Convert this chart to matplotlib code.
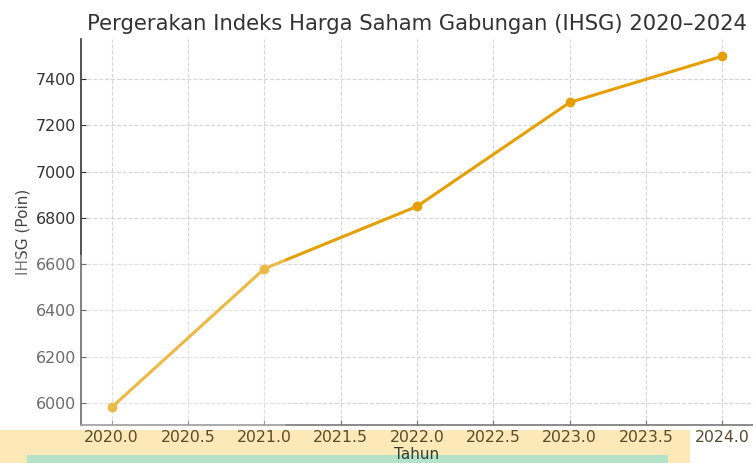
import matplotlib.pyplot as plt
from matplotlib.patches import Rectangle

# data
tahun = [2020, 2021, 2022, 2023, 2024]
ihsg = [5980, 6580, 6850, 7300, 7500]

W, H = 753, 463
fig = plt.figure(figsize=(W / 100, H / 100), dpi=100)
ax = fig.add_axes([81 / W, 1 - 425 / H, 1 - 81 / W, (425 - 38.6) / H])

ax.plot(tahun, ihsg, color='#E69F00', linewidth=2.2, marker='o', markersize=6)

ax.set_title('Pergerakan Indeks Harga Saham Gabungan (IHSG) 2020\u20132024',
             fontsize=15.2, color='#333333', pad=6)
ax.set_xlabel('Tahun', fontsize=11, color='#2f3f35', labelpad=1.5)
ax.set_ylabel('IHSG (Poin)', fontsize=11, color='#444444')

ax.grid(True, linestyle='--', color='#cccccc', linewidth=0.8, alpha=0.8)
ax.spines['top'].set_visible(False)
ax.spines['right'].set_visible(False)
ax.spines['left'].set_color('#333333')
ax.spines['bottom'].set_color('#777777')
ax.spines['left'].set_linewidth(1.2)
ax.spines['bottom'].set_linewidth(1.2)
ax.tick_params(axis='y', direction='in', labelsize=11.4, colors='#333333')
ax.tick_params(axis='x', direction='in', labelsize=11.3, colors='#777777', labelcolor='#5a4a2c')
ax.get_xticklabels()[-1].set_color('#666666')


def px_rect(x0, y0, x1, y1, **kw):
    # rectangle given in pixel coords (top-left origin)
    return Rectangle((x0 / W, 1 - y1 / H), (x1 - x0) / W, (y1 - y0) / H,
                     transform=fig.transFigure, **kw)


# highlight boxes behind the x axis labels
fig.add_artist(px_rect(0, 430, 690, 463, facecolor='#fde9b8', edgecolor='none', zorder=-2))
fig.add_artist(px_rect(27, 455, 668, 463, facecolor='#b5e3c9', edgecolor='none', zorder=-1))
# faded lower-left region
fig.add_artist(px_rect(0, 255, 285, 428, facecolor='white', edgecolor='none', alpha=0.28, zorder=5))

fig.savefig('out.png', dpi=100)
